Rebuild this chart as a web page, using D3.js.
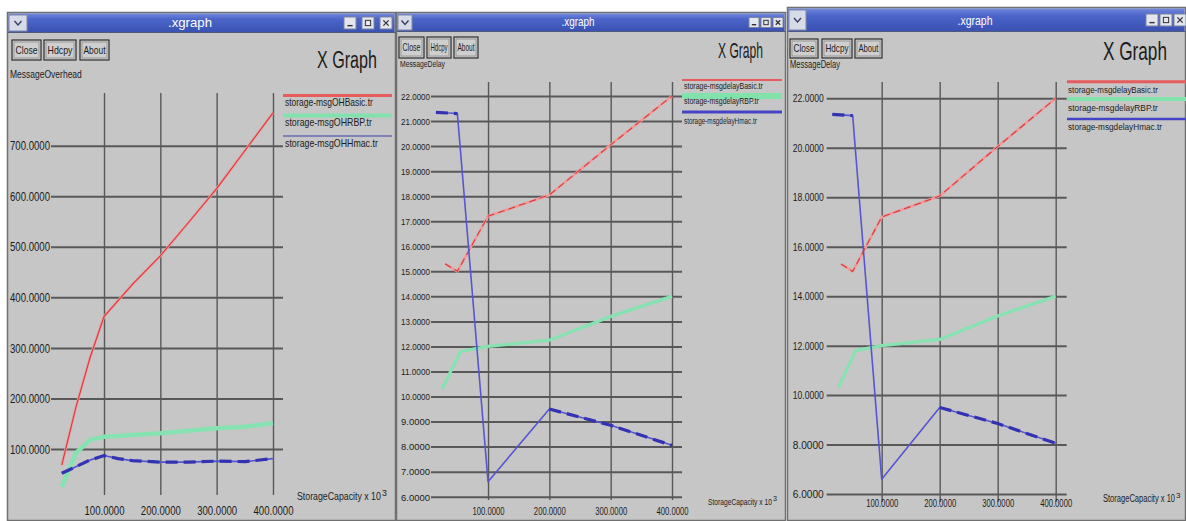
<!DOCTYPE html>
<html>
<head>
<meta charset="utf-8">
<script src="https://cdn.jsdelivr.net/npm/d3@7"></script>
<style>
  html, body { margin: 0; padding: 0; background: #ffffff; overflow: hidden; }
  svg { display: block; }
</style>
</head>
<body>
<svg id="screen" width="1186" height="521"></svg>
<script>
// ---- tick values ----
const overheadTicks = [100, 200, 300, 400, 500, 600, 700];
const capacityTicks = [100, 200, 300, 400];
const delayTicksFine = [6, 7, 8, 9, 10, 11, 12, 13, 14, 15, 16, 17, 18, 19, 20, 21, 22];
const delayTicksCoarse = [6, 8, 10, 12, 14, 16, 18, 20, 22];

// ---- series names ----
const overheadNames = ["storage-msgOHBasic.tr", "storage-msgOHRBP.tr", "storage-msgOHHmac.tr"];
const delayNames = ["storage-msgdelayBasic.tr", "storage-msgdelayRBP.tr", "storage-msgdelayHmac.tr"];

// ---- message overhead vs storage capacity (x 10^3) ----
const overheadBasicX = [25, 50, 75, 100, 150, 200, 250, 300, 350, 400];
const overheadBasic  = [68, 182, 280, 362, 425, 482, 548, 615, 690, 765];
const overheadRbpX   = [25, 50, 75, 100, 200, 300, 350, 400];
const overheadRbp    = [25, 92, 118, 124, 131, 141, 144, 151];
const overheadHmacX  = [25, 50, 75, 100, 125, 150, 200, 250, 300, 350, 400];
const overheadHmac   = [52, 65, 78, 87, 81, 77, 74, 74, 76, 75, 81];

// ---- message delay vs storage capacity (x 10^3) ----
const delayBasicX = [30, 50, 100, 200, 300, 400];
const delayBasic  = [15.3, 15.0, 17.2, 18.05, 20.05, 22.0];
const delayRbpX   = [25, 55, 100, 200, 300, 400];
const delayRbp    = [10.3, 11.8, 12.0, 12.25, 13.2, 14.0];
const delayHmacX  = [15, 50, 100, 200, 300, 400];
const delayHmac   = [21.35, 21.3, 6.6, 9.5, 8.85, 8.05];

// ---- look ----
const FONT = '"Liberation Sans", Arial, Helvetica, sans-serif';
const BODY = "#c6c6c6";
const GRID = "#585858";
const INK = "#1c1c1c";

const svg = d3.select("#screen");
const defs = svg.append("defs");
const tb = defs.append("linearGradient").attr("id", "titlebar")
  .attr("x1", 0).attr("y1", 0).attr("x2", 0).attr("y2", 1);
tb.append("stop").attr("offset", "0%").attr("stop-color", "#7389dc");
tb.append("stop").attr("offset", "30%").attr("stop-color", "#4c65c9");
tb.append("stop").attr("offset", "100%").attr("stop-color", "#3a51b2");

// squeeze a text horizontally so it spans `len` pixels, anchored at (x, y)
function squeeze(node, x, y, len) {
  const w = node.getComputedTextLength();
  const s = len && w > 0 ? len / w : 1;
  d3.select(node).attr("x", 0).attr("y", 0).attr("dy", null)
    .attr("transform", `translate(${x},${y}) scale(${s},1)`);
}

function text(g, str, x, y, size, len, opt = {}) {
  const t = g.append("text")
    .attr("font-family", FONT).attr("font-size", size)
    .attr("fill", opt.fill || INK)
    .text(str);
  if (opt.anchor) t.attr("text-anchor", opt.anchor);
  if (opt.weight) t.attr("font-weight", opt.weight);
  squeeze(t.node(), x, y, len);
  return t;
}

// ---- window chrome ----
function drawWindow(w) {
  const g = svg.append("g");
  g.append("rect").attr("x", w.x).attr("y", w.y).attr("width", w.w).attr("height", w.h)
    .attr("fill", BODY).attr("stroke", "#707070").attr("stroke-width", 1.5);
  g.append("rect").attr("x", w.x + 1).attr("y", w.y + 1).attr("width", w.w - 2).attr("height", w.tbH)
    .attr("fill", "url(#titlebar)");
  g.append("line").attr("x1", w.x).attr("x2", w.x + w.w).attr("y1", w.y + 1 + w.tbH).attr("y2", w.y + 1 + w.tbH)
    .attr("stroke", "#505a80").attr("stroke-width", 1);

  // menu icon on the left of the title bar
  const iw = w.iconW;
  g.append("rect").attr("x", w.x + 1.5).attr("y", w.y + 2.5).attr("width", iw).attr("height", w.tbH - 3)
    .attr("fill", "#d7dbe8").attr("stroke", "#8088a8");
  const cx = w.x + 1.5 + iw / 2, cy = w.y + 2.5 + (w.tbH - 3) / 2;
  g.append("path").attr("d", `M${cx - 3.5},${cy - 2} L${cx},${cy + 2} L${cx + 3.5},${cy - 2}`)
    .attr("fill", "none").attr("stroke", "#3a4060").attr("stroke-width", 1.4);

  // minimise / maximise / close boxes
  const bs = w.boxSize;
  w.boxes.forEach((bx, i) => {
    const by = w.y + 1 + (w.tbH - bs) / 2;
    g.append("rect").attr("x", bx).attr("y", by).attr("width", bs).attr("height", bs)
      .attr("fill", "#e4e6ee").attr("stroke", "#7b82a0");
    const m = bs * 0.28;
    if (i === 0) {
      g.append("line").attr("x1", bx + m).attr("x2", bx + bs - m).attr("y1", by + bs - m).attr("y2", by + bs - m)
        .attr("stroke", "#333").attr("stroke-width", 1.4);
    } else if (i === 1) {
      g.append("rect").attr("x", bx + m).attr("y", by + m).attr("width", bs - 2 * m).attr("height", bs - 2 * m)
        .attr("fill", "none").attr("stroke", "#333").attr("stroke-width", 1);
    } else {
      g.append("path").attr("d", `M${bx + m},${by + m} L${bx + bs - m},${by + bs - m} M${bx + bs - m},${by + m} L${bx + m},${by + bs - m}`)
        .attr("stroke", "#333").attr("stroke-width", 1.3);
    }
  });

  text(g, ".xgraph", w.titleX, w.y + 1 + w.tbH * 0.72, 12, w.titleLen, { fill: "#ffffff", anchor: "middle" });

  // push buttons
  w.buttons.forEach(b => {
    g.append("rect").attr("x", b.x0).attr("y", w.btnY0).attr("width", b.x1 - b.x0).attr("height", w.btnY1 - w.btnY0)
      .attr("fill", "#cfcfcf").attr("stroke", "#2e2e2e").attr("stroke-width", 1.2);
    g.append("rect").attr("x", b.x0 + 2).attr("y", w.btnY0 + 2).attr("width", b.x1 - b.x0 - 4).attr("height", w.btnY1 - w.btnY0 - 4)
      .attr("fill", "none").attr("stroke", "#8a8a8a").attr("stroke-width", 0.8);
    text(g, b.label, (b.x0 + b.x1) / 2, (w.btnY0 + w.btnY1) / 2 + 3.5, 10, b.x1 - b.x0 - 7, { anchor: "middle" });
  });

  text(g, "X Graph", w.brandX, w.brandBase, w.brandSize, w.brandLen);
  text(g, w.yTitle, w.yTitleX, w.yTitleBase, w.yTitleSize, w.yTitleLen);
}

// ---- one plot with grid, series, legend ----
function drawPanel(p) {
  const g = svg.append("g");
  const x = d3.scaleLinear().domain(p.xDomain).range([p.left, p.right]);
  const y = d3.scaleLinear().domain(p.yDomain).range([p.bottom, p.top]);
  const fmt = d3.format(".4f");

  const gx = g.append("g").attr("transform", `translate(0,${p.bottom})`)
    .call(d3.axisBottom(x).tickValues(p.xTicks).tickFormat(fmt)
      .tickSize(-(p.bottom - p.top)).tickSizeOuter(0));
  gx.select(".domain").remove();
  gx.selectAll(".tick line").attr("stroke", GRID).attr("stroke-width", 1.4);
  gx.selectAll(".tick text")
    .attr("font-family", FONT).attr("font-size", p.xFont).attr("fill", INK)
    .each(function () { squeeze(this, 0, p.xBase - p.bottom, p.xLen); });

  const gy = g.append("g").attr("transform", `translate(${p.left},0)`)
    .call(d3.axisLeft(y).tickValues(p.yTicks).tickFormat(fmt)
      .tickSize(-(p.right - p.left)).tickSizeOuter(0));
  gy.select(".domain").remove();
  gy.selectAll(".tick line").attr("stroke", GRID).attr("stroke-width", 2);
  gy.selectAll(".tick text")
    .attr("font-family", FONT).attr("font-size", p.yFont).attr("fill", INK)
    .each(function () { squeeze(this, -p.yPad, p.yFont * 0.35, p.yLen); });

  const line = d3.line().x(d => x(d[0])).y(d => y(d[1]));

  p.series.forEach(s => {
    const pts = d3.zip(s.xs, s.ys);
    if (s.kind === "red") {
      g.append("path").attr("d", line(pts)).attr("fill", "none")
        .attr("stroke", "#f09a9a").attr("stroke-width", 2.6).attr("stroke-linejoin", "round");
      g.append("path").attr("d", line(pts)).attr("fill", "none")
        .attr("stroke", "#d43c3c").attr("stroke-width", 1.1)
        .attr("stroke-dasharray", s.solid ? null : "7,4");
    } else if (s.kind === "green") {
      g.append("path").attr("d", line(pts)).attr("fill", "none")
        .attr("stroke", "#86e2b0").attr("stroke-width", s.width).attr("stroke-linejoin", "round");
    } else {
      g.append("path").attr("d", line(pts)).attr("fill", "none")
        .attr("stroke", "#5656d2").attr("stroke-width", 1.6).attr("stroke-linejoin", "round");
      s.dashed.forEach(([a, b]) => {
        g.append("path").attr("d", line(pts.slice(a, b + 1))).attr("fill", "none")
          .attr("stroke", "#3232b2").attr("stroke-width", 3.2).attr("stroke-dasharray", "12,6");
      });
    }
  });

  // legend
  const lg = p.legend;
  lg.rows.forEach((r, i) => {
    g.append("line").attr("x1", lg.x0).attr("x2", lg.x1).attr("y1", r.ly).attr("y2", r.ly)
      .attr("stroke", lg.colors[i]).attr("stroke-width", r.lw);
    text(g, p.names[i], lg.textX, r.ty, lg.size, r.tl);
  });

  // x-axis caption with its power of ten set as a separate raised digit
  const xt = p.xTitle;
  text(g, "StorageCapacity x 10", xt.x, xt.base, xt.size, xt.len - 6);
  text(g, "3", xt.x + xt.len - 5, xt.base - 4, xt.size * 0.8, null);
}

// ---- the three windows ----
const windows = [
  { x: 7.5, y: 12.5, w: 388, h: 508, tbH: 19, iconW: 18, boxSize: 12, boxes: [344, 362, 380],
    titleX: 190, titleLen: 44,
    btnY0: 40, btnY1: 60,
    buttons: [{ label: "Close", x0: 12, x1: 41 }, { label: "Hdcpy", x0: 44, x1: 76 }, { label: "About", x0: 80, x1: 109 }],
    brandX: 317, brandBase: 68, brandSize: 24, brandLen: 60,
    yTitle: "MessageOverhead", yTitleX: 10, yTitleBase: 78, yTitleSize: 10, yTitleLen: 72 },
  { x: 396.5, y: 12.5, w: 389, h: 508, tbH: 18, iconW: 14, boxSize: 10, boxes: [749, 761, 773],
    titleX: 578, titleLen: 33,
    btnY0: 37, btnY1: 58,
    buttons: [{ label: "Close", x0: 399, x1: 424 }, { label: "Hdcpy", x0: 427, x1: 451 }, { label: "About", x0: 454, x1: 478 }],
    brandX: 718, brandBase: 58, brandSize: 22, brandLen: 45,
    yTitle: "MessageDelay", yTitleX: 400, yTitleBase: 67, yTitleSize: 9, yTitleLen: 45 },
  { x: 787.5, y: 7.5, w: 398, h: 513, tbH: 23, iconW: 17, boxSize: 12, boxes: [1146, 1160, 1174],
    titleX: 975, titleLen: 35,
    btnY0: 39, btnY1: 58,
    buttons: [{ label: "Close", x0: 790, x1: 818 }, { label: "Hdcpy", x0: 822, x1: 852 }, { label: "About", x0: 855, x1: 882 }],
    brandX: 1103, brandBase: 60, brandSize: 25, brandLen: 64,
    yTitle: "MessageDelay", yTitleX: 790, yTitleBase: 68, yTitleSize: 10, yTitleLen: 50 }
];
windows.forEach(drawWindow);

const legendColors = ["#e65c5c", "#82e2ac", "#4444c4"];

const overheadSeries = [
  { kind: "red", xs: overheadBasicX, ys: overheadBasic, solid: true },
  { kind: "green", xs: overheadRbpX, ys: overheadRbp, width: 4.5 },
  { kind: "blue", xs: overheadHmacX, ys: overheadHmac, dashed: [[0, 10]] }
];
const delaySeries = [
  { kind: "red", xs: delayBasicX, ys: delayBasic },
  { kind: "green", xs: delayRbpX, ys: delayRbp, width: 3.2 },
  { kind: "blue", xs: delayHmacX, ys: delayHmac, dashed: [[0, 1], [3, 5]] }
];

const panels = [
  { left: 51, right: 283, top: 93, bottom: 495, xDomain: [5.9, 417.8], yDomain: [9.0, 804.2],
    xTicks: capacityTicks, yTicks: overheadTicks,
    yFont: 12, yLen: 40, yPad: 1, xFont: 12, xLen: 40, xBase: 515,
    xTitle: { x: 297, base: 500, size: 11, len: 90 },
    names: overheadNames, series: overheadSeries,
    legend: { x0: 283, x1: 392, textX: 285, size: 10, colors: ["#e65c5c", "#82e2ac", "#6a6ab4"],
      rows: [{ ly: 95.5, lw: 3, ty: 106, tl: 88 }, { ly: 115.5, lw: 4, ty: 126, tl: 87 }, { ly: 136, lw: 1.5, ty: 147, tl: 93 }] } },
  { left: 431, right: 682, top: 82, bottom: 500, xDomain: [7.0, 416.3], yDomain: [5.868, 22.56],
    xTicks: capacityTicks, yTicks: delayTicksFine,
    yFont: 9.5, yLen: 29, yPad: 1, xFont: 10, xLen: 32, xBase: 515,
    xTitle: { x: 708, base: 505, size: 9, len: 70 },
    names: delayNames, series: delaySeries,
    legend: { x0: 682, x1: 782, textX: 684, size: 9, colors: legendColors,
      rows: [{ ly: 80, lw: 2, ty: 89, tl: 79 }, { ly: 96, lw: 6, ty: 104, tl: 75 }, { ly: 112, lw: 3, ty: 124, tl: 73 }] } },
  { left: 826.7, right: 1066.7, top: 82, bottom: 502, xDomain: [5.2, 419], yDomain: [5.677, 22.66],
    xTicks: capacityTicks, yTicks: delayTicksCoarse,
    yFont: 10, yLen: 31, yPad: 3, xFont: 10, xLen: 32, xBase: 507,
    xTitle: { x: 1103, base: 502, size: 10, len: 78 },
    names: delayNames, series: delaySeries,
    legend: { x0: 1067, x1: 1186, textX: 1068, size: 9, colors: legendColors,
      rows: [{ ly: 81.7, lw: 3, ty: 93, tl: 90 }, { ly: 99, lw: 4, ty: 111, tl: 90 }, { ly: 119, lw: 2.5, ty: 130, tl: 94 }] } }
];
panels.forEach(drawPanel);
</script>
</body>
</html>
